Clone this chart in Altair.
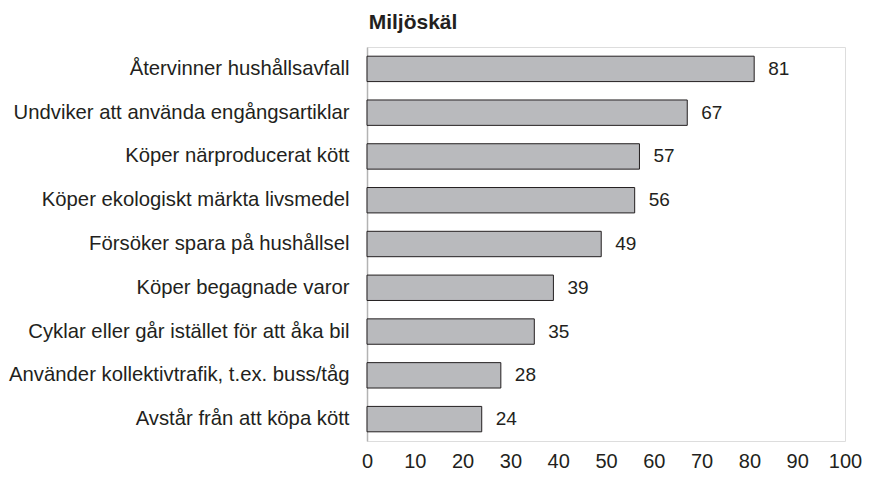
import altair as alt
import pandas as pd

categories = [
    "Återvinner hushållsavfall",
    "Undviker att använda engångsartiklar",
    "Köper närproducerat kött",
    "Köper ekologiskt märkta livsmedel",
    "Försöker spara på hushållsel",
    "Köper begagnade varor",
    "Cyklar eller går istället för att åka bil",
    "Använder kollektivtrafik, t.ex. buss/tåg",
    "Avstår från att köpa kött",
]
values = [81, 67, 57, 56, 49, 39, 35, 28, 24]
x_ticks = [0, 10, 20, 30, 40, 50, 60, 70, 80, 90, 100]

df = pd.DataFrame({"cat": categories, "val": values})

FONT = "Liberation Sans"
TXT = "#231f20"

y_enc = alt.Y("cat:N", sort=categories, title=None,
              scale=alt.Scale(paddingInner=0.42, paddingOuter=0.21),
              axis=alt.Axis(domain=True, domainColor="#b3b3b3", domainWidth=1.5,
                            ticks=False, grid=False, labelPadding=18,
                            labelFontSize=20.3, labelFont=FONT, labelColor=TXT,
                            labelLimit=700))
x_enc = alt.X("val:Q", title=None,
              scale=alt.Scale(domain=[0, 100], nice=False),
              axis=alt.Axis(values=x_ticks, domain=False, ticks=False, grid=False,
                            labelPadding=10, labelFontSize=20, labelFont=FONT,
                            labelColor=TXT, labelFlush=False))

base = alt.Chart(df).encode(y=y_enc, x=x_enc)

bars = base.mark_bar(color="#b9babd", stroke="#231f20", strokeWidth=1)

labels = base.mark_text(align="left", baseline="middle", dx=14, fontSize=19,
                        font=FONT, color=TXT).encode(text="val:Q")

chart = (bars + labels).properties(
    width=854, height=463,
    autosize=alt.AutoSizeParams(type="fit", contains="padding"),
    title=alt.TitleParams("Miljöskäl", font=FONT, fontSize=21, fontWeight="bold",
                          color=TXT, anchor="middle", dx=-193, offset=14),
).configure_view(strokeWidth=0, stroke="white").configure_axis(
    grid=False, gridColor="white"
).configure_axisX(domainColor="white", tickColor="white", gridColor="white").configure(
    padding={"top": 4, "left": 0, "right": 0, "bottom": 0})

chart.save("out.html", embed_options={"renderer": "svg", "actions": False})
